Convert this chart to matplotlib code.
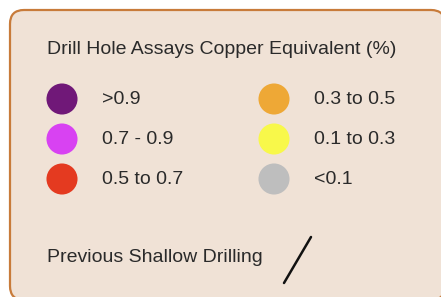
import matplotlib.pyplot as plt
from matplotlib.patches import FancyBboxPatch

plt.rcParams['font.family'] = ['Liberation Sans', 'DejaVu Sans']

title = 'Drill Hole Assays Copper Equivalent (%)'
labels = ['>0.9', '0.7 - 0.9', '0.5 to 0.7', '0.3 to 0.5', '0.1 to 0.3', '<0.1']
colors = ['#701878', '#d842f2', '#e43a20', '#eea836', '#f8f84a', '#bebebe']
line_label = 'Previous Shallow Drilling'

fig = plt.figure(figsize=(4.41, 2.97), dpi=100)
fig.patch.set_facecolor('white')
ax = fig.add_axes([0, 0, 1, 1])
ax.set_xlim(0, 441)
ax.set_ylim(297, 0)
ax.axis('off')

# legend frame runs a bit past the right and bottom edges
box = FancyBboxPatch((10, 10), 435, 290, boxstyle='round,pad=0,rounding_size=14',
                     fc='#f0e2d6', ec='#c87b3a', lw=1.6)
ax.add_patch(box)

ax.text(47, 50, title, fontsize=14, color='#2a2a2a', va='center', ha='left')

# two columns of three
for i, (lab, col) in enumerate(zip(labels, colors)):
    c, r = divmod(i, 3)
    cx = 62 + c * 212
    cy = 99 + r * 40
    ax.scatter([cx], [cy], s=500, color=col, edgecolors='none')
    ax.text(cx + 40, cy, lab, fontsize=14, color='#2a2a2a', va='center', ha='left')

ax.text(47, 258, line_label, fontsize=14, color='#2a2a2a', va='center', ha='left')
ax.plot([284, 311], [283, 237], color='#111111', lw=1.8, solid_capstyle='round')

fig.savefig('out.png', dpi=100)
